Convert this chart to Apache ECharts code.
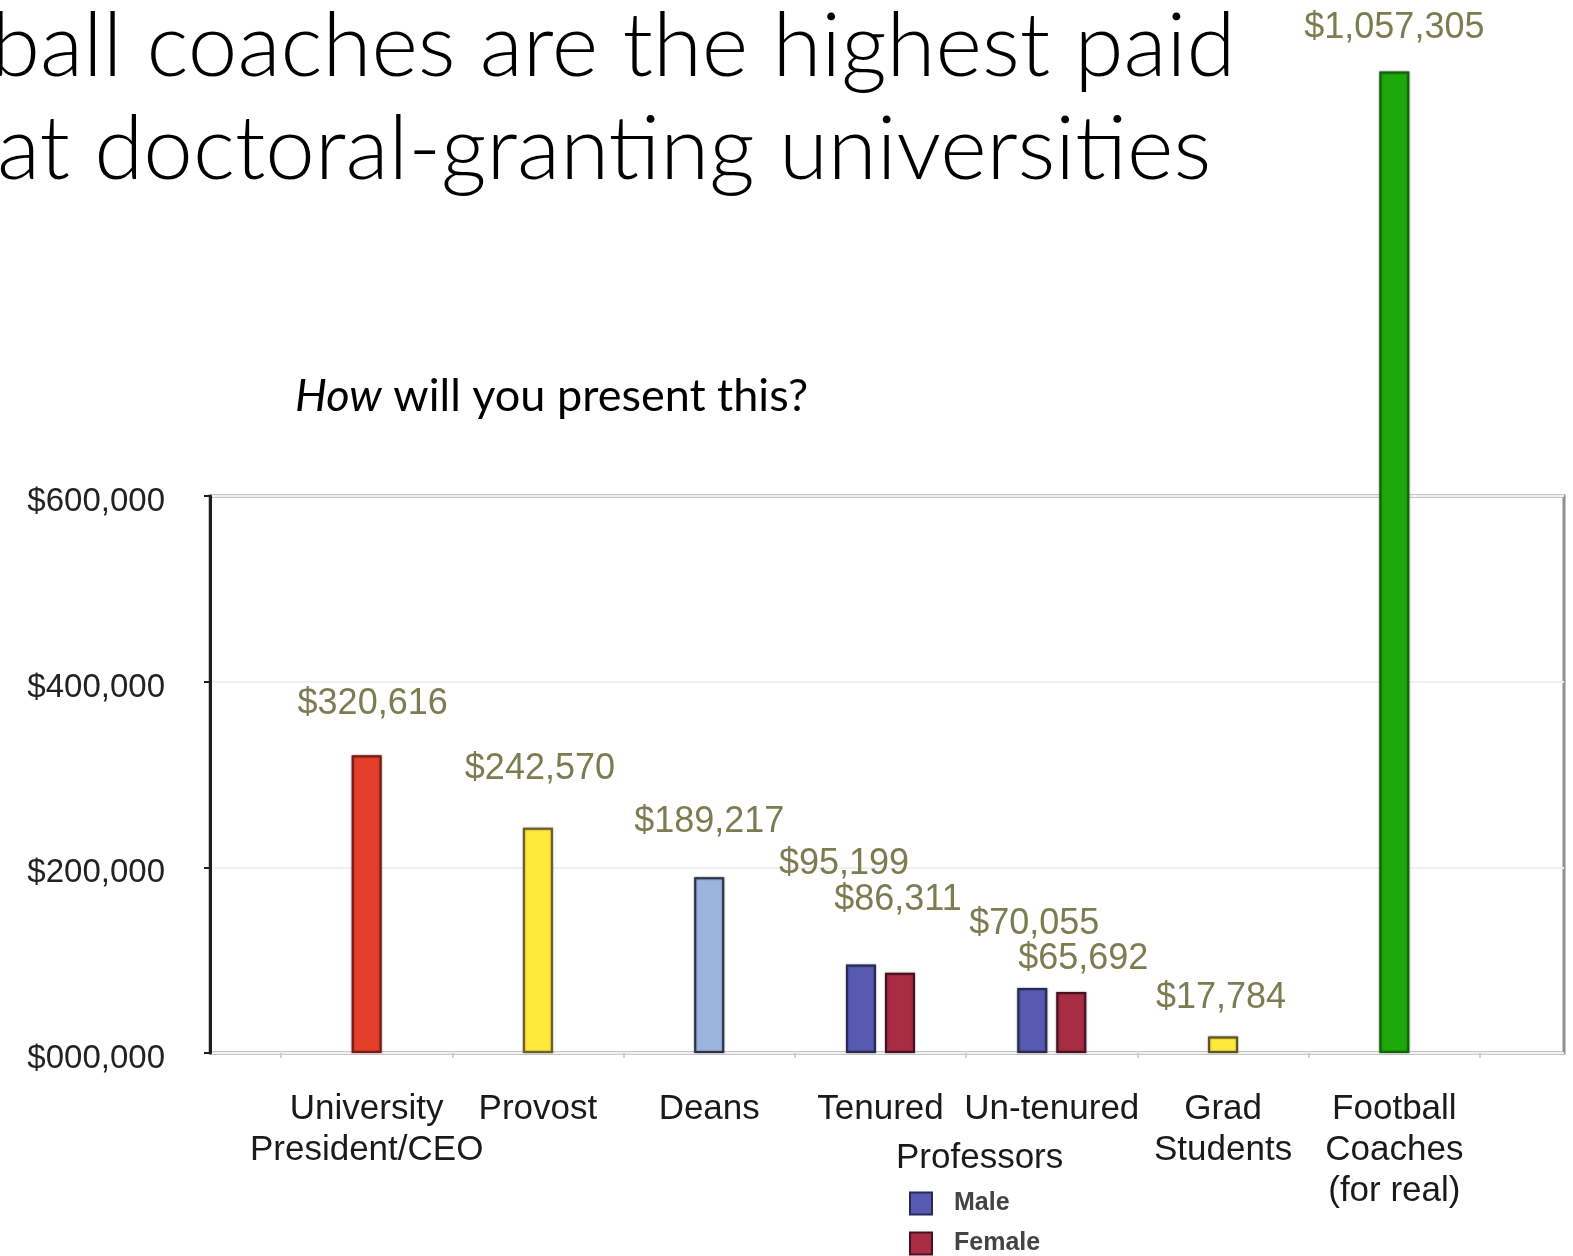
<!DOCTYPE html>
<html>
<head>
<meta charset="utf-8">
<script src="https://cdn.jsdelivr.net/npm/echarts@6/dist/echarts.min.js"></script>
<style>
html,body{margin:0;padding:0;background:#fff;}
#chart{width:1573px;height:1256px;}
</style>
</head>
<body>
<div id="chart"></div>
<script>
// ---- data ----
const categories = ['University\nPresident/CEO', 'Provost', 'Deans', 'Tenured', 'Un-tenured', 'Grad\nStudents', 'Football\nCoaches\n(for real)'];
const singleValues = [320616, 242570, 189217, '-', '-', 17784, 1057305];
const maleValues = ['-', '-', '-', 95199, 70055, '-', '-'];
const femaleValues = ['-', '-', '-', 86311, 65692, '-', '-'];
const yTickValues = [0, 200000, 400000, 600000];
const seriesNames = ['Male', 'Female'];
const groupLabel = 'Professors';
const titleLine1 = 'ball coaches are the highest paid';
const titleLine2 = 'at doctoral-granting universities';

// ---- styles ----
const singleFill = ['#e53e2b', '#ffe93b', '#9bb5de', null, null, '#ffe93b', '#1fa80b'];
const singleBorder = ['#7a1a12', '#6b5e2a', '#2d3048', null, null, '#5e5420', '#0e6406'];
const singleLabelOffset = [[6, -28], [2, -36], [0, -32], null, null, [-2, -15], [0, -20]];
const maleLabelOffset = [null, null, null, [-17, -78], [2, -41], null, null];
const femaleLabelOffset = [null, null, null, [-2, -50], [12, -10], null, null];
const labelColor = '#7b7d50';
const FONT = '"Liberation Sans", Arial, sans-serif';
const TFONT = 'Lato, "Open Sans", sans-serif';

const fmtMoney = v => '$' + Number(v).toLocaleString('en-US');
const fmtAxis = v => { const s = String(Math.round(v)).padStart(6, '0'); return '$' + s.slice(0, s.length - 3) + ',' + s.slice(-3); };

// layout of the boxed plot (600k scale) and the taller plot sharing the same scale
const boxTop = 496, boxBottomPx = 1053, H = 1256;
const boxMax = 600000, barMax = 1100000;
const pxPerUnit = (boxBottomPx - boxTop) / boxMax;
const barGridTop = boxBottomPx - pxPerUnit * barMax;

function buildItems(values, offsets, fills, borders) {
  return values.map((v, i) => {
    if (v === '-') return '-';
    const item = { value: v, label: { offset: offsets[i] } };
    if (fills) item.itemStyle = { color: fills[i], borderColor: borders[i] };
    return item;
  });
}

const labelBase = {
  show: true, position: 'top', color: labelColor, fontFamily: FONT, fontSize: 36,
  formatter: p => fmtMoney(p.value)
};
const barShadow = { shadowColor: 'rgba(0,0,0,0.45)', shadowBlur: 2 };
const legendCommon = {
  orient: 'vertical', left: 909, padding: 0, itemWidth: 22, itemHeight: 22, icon: 'rect',
  textStyle: { fontFamily: FONT, fontSize: 25, color: '#444', fontWeight: 'bold', padding: [0, 0, 0, 17] }
};

const chart = echarts.init(document.getElementById('chart'), null, { renderer: 'canvas' });
chart.setOption({
  backgroundColor: '#fff',
  animation: false,
  grid: [
    { left: 210, right: 9, top: boxTop, bottom: H - boxBottomPx, show: true, borderColor: '#8f8f8f', borderWidth: 3, backgroundColor: 'transparent' },
    { left: 281, right: 93, top: barGridTop, bottom: H - boxBottomPx }
  ],
  xAxis: [
    { type: 'value', gridIndex: 0, show: false },
    {
      type: 'category', gridIndex: 1, data: categories,
      axisLine: { show: false },
      axisTick: { show: true, length: 5, lineStyle: { color: '#d0d0d0', width: 2 } },
      axisLabel: { interval: 0, margin: 36, color: '#1a1a1a', fontFamily: FONT, fontSize: 35, lineHeight: 41 }
    },
    { type: 'category', gridIndex: 1, data: categories, show: false }
  ],
  yAxis: [
    {
      type: 'value', gridIndex: 0, min: 0, max: boxMax, interval: 200000, offset: 25,
      axisLine: { show: true, lineStyle: { color: '#1e1e1e', width: 3 } },
      axisTick: { show: true, length: 6, lineStyle: { color: '#1e1e1e', width: 2 } },
      axisLabel: {
        margin: 20, color: '#222', fontFamily: FONT, fontSize: 33,
        formatter: v => yTickValues.includes(v) ? '{v|' + fmtAxis(v) + '}' : '',
        rich: { v: { fontFamily: FONT, fontSize: 33, color: '#222', padding: [12, 0, 0, 0] } }
      },
      splitLine: { show: true, lineStyle: { color: '#f0f0f0', width: 2 } }
    },
    { type: 'value', gridIndex: 1, min: 0, max: barMax, show: false }
  ],
  legend: [
    Object.assign({ top: 1191, data: [seriesNames[0]] }, legendCommon),
    Object.assign({ top: 1231, data: [seriesNames[1]] }, legendCommon)
  ],
  graphic: [
    { type: 'text', left: -9, top: 3, style: { text: titleLine1, fontFamily: TFONT, fontWeight: 300, fontSize: 89, fill: '#000' } },
    { type: 'text', left: -3, top: 106, style: { text: titleLine2, fontFamily: TFONT, fontWeight: 300, fontSize: 89, fill: '#000' } },
    { type: 'text', left: 295, top: 374, style: {
        text: '{i|How} will you present this?', fontFamily: TFONT, fontSize: 45, fill: '#000',
        rich: { i: { fontStyle: 'italic', fontFamily: TFONT, fontSize: 45, fill: '#000' } } } },
    { type: 'text', left: 896, top: 1141, style: { text: groupLabel, fontFamily: FONT, fontSize: 35, fill: '#1a1a1a' } }
  ],
  series: [
    {
      name: 'single', type: 'bar', xAxisIndex: 1, yAxisIndex: 1, barWidth: 30, z: 5,
      itemStyle: Object.assign({ borderWidth: 2 }, barShadow),
      label: labelBase,
      data: buildItems(singleValues, singleLabelOffset, singleFill, singleBorder)
    },
    {
      name: seriesNames[0], type: 'bar', xAxisIndex: 2, yAxisIndex: 1, barWidth: 30, barGap: '30%', z: 5,
      itemStyle: Object.assign({ color: '#5859b0', borderColor: '#262a55', borderWidth: 2 }, barShadow),
      label: labelBase,
      data: buildItems(maleValues, maleLabelOffset)
    },
    {
      name: seriesNames[1], type: 'bar', xAxisIndex: 2, yAxisIndex: 1, barWidth: 30, barGap: '30%', z: 5,
      itemStyle: Object.assign({ color: '#a82c44', borderColor: '#4a1020', borderWidth: 2 }, barShadow),
      label: labelBase,
      data: buildItems(femaleValues, femaleLabelOffset)
    }
  ]
});
</script>
</body>
</html>
